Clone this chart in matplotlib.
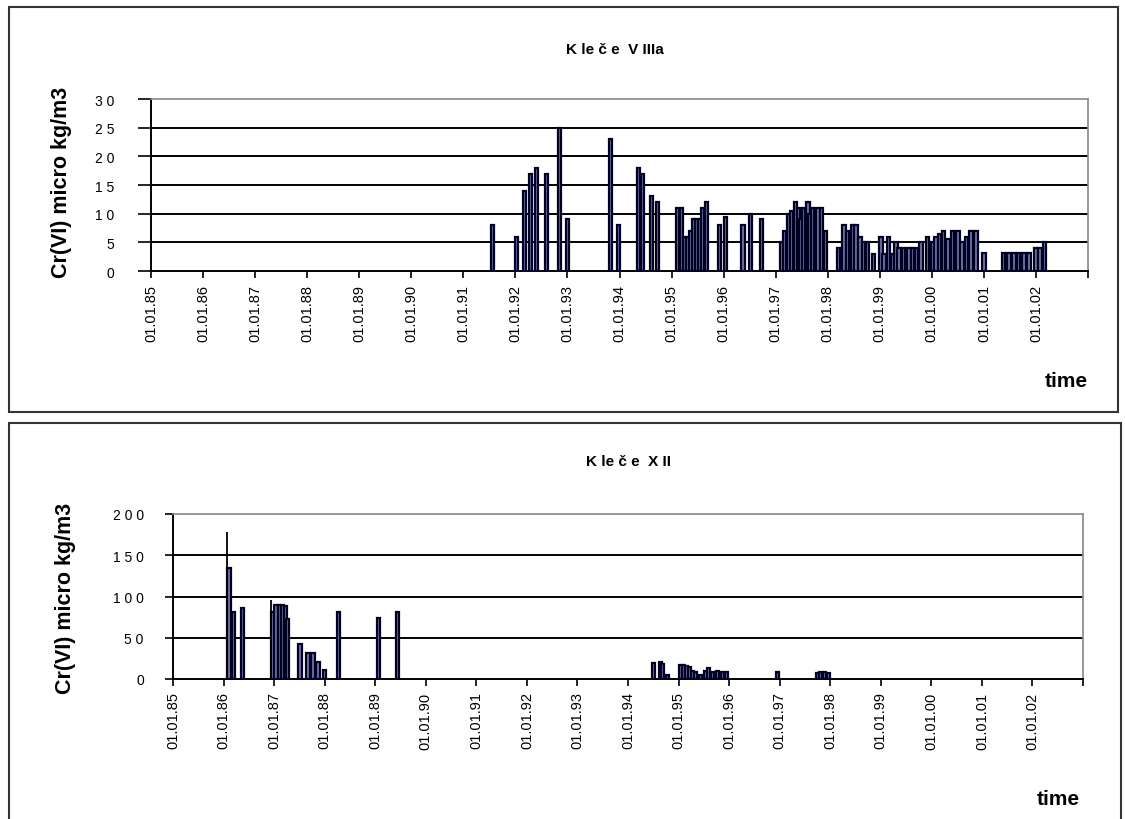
import matplotlib
matplotlib.use("Agg")
import matplotlib.pyplot as plt
import matplotlib.transforms as mtransforms
from matplotlib.patches import Rectangle

plt.rcParams['font.family'] = ['Liberation Sans', 'DejaVu Sans']

# Kleče VIIIa - sample dates (decimal years) and Cr(VI) values
top_dates = [1991.56, 1992.02, 1992.17, 1992.29, 1992.40, 1992.60, 1992.85, 1993.00,
             1993.83, 1993.98, 1994.37, 1994.44, 1994.62, 1994.73, 1995.12, 1995.19,
             1995.25, 1995.31, 1995.37, 1995.42, 1995.48, 1995.54, 1995.60, 1995.67,
             1995.92, 1996.04, 1996.37, 1996.52, 1996.73, 1997.12, 1997.17, 1997.25,
             1997.31, 1997.38, 1997.44, 1997.48, 1997.54, 1997.62, 1997.65, 1997.71,
             1997.81, 1997.88, 1997.96, 1998.21, 1998.31, 1998.38, 1998.48, 1998.54,
             1998.62, 1998.69, 1998.77, 1998.88, 1999.02, 1999.08, 1999.17, 1999.25,
             1999.31, 1999.37, 1999.46, 1999.56, 1999.63, 1999.71, 1999.79, 1999.92,
             2000.02, 2000.08, 2000.15, 2000.23, 2000.31, 2000.40, 2000.50, 2000.58,
             2000.67, 2000.75, 2000.85, 2001.00, 2001.38, 2001.48, 2001.58, 2001.67,
             2001.77, 2001.87, 2002.00, 2002.08, 2002.17]
top_vals = [8, 6, 14, 17, 18, 17, 25, 9,
            23, 8, 18, 17, 13, 12, 11, 11,
            6, 6, 7, 9, 9, 9, 11, 12,
            8, 9.5, 8, 10, 9, 5, 7, 10,
            10.5, 12, 11, 9, 11, 12, 10, 11,
            11, 11, 7, 4, 8, 7, 8, 8,
            6, 5, 5, 3, 6, 3, 6, 3,
            5, 4, 4, 4, 4, 4, 5, 6,
            5, 6, 6.5, 7, 5.5, 7, 7, 5,
            6, 7, 7, 3.2, 3.2, 3.2, 3.2, 3.2,
            3.2, 3.2, 4, 4, 5]

# Kleče XII
bot_dates = [1986.11, 1986.19, 1986.37, 1986.98, 1987.04, 1987.10, 1987.16, 1987.22,
             1987.26, 1987.51, 1987.67, 1987.77, 1987.87, 1987.99, 1988.27, 1989.06,
             1989.44, 1994.50, 1994.64, 1994.68, 1994.78, 1995.04, 1995.10, 1995.16,
             1995.22, 1995.28, 1995.34, 1995.44, 1995.53, 1995.59, 1995.67, 1995.77,
             1995.87, 1995.95, 1996.96, 1997.75, 1997.81, 1997.89, 1997.97]
bot_vals = [135, 81, 86, 81, 90, 90, 90, 88,
            73, 43, 31, 31, 21, 11, 81, 74,
            81, 19, 21, 18, 5, 17, 17, 16,
            15, 10, 8, 5, 10, 13, 9, 10,
            9, 9, 8, 7, 8, 8, 7]
# single very narrow bars
bot_spike_dates = [1986.07, 1986.94]
bot_spike_vals = [178, 96]

years = list(range(1985, 2003))
year_labels = ["01.01.%02d" % (y % 100) for y in years]

W, H = 1125, 820
fig = plt.figure(figsize=(W / 100, H / 100), dpi=100)


def fx(px):
    return px / W


def fy(py):
    return 1 - py / H


# outer frames
fig.patches.append(Rectangle((fx(9), fy(413)), fx(1118 - 9), (413 - 8) / H,
                             transform=fig.transFigure, fill=False, lw=1.5, ec='#333333'))
fig.patches.append(Rectangle((fx(9), fy(840)), fx(1121 - 9), (840 - 424) / H,
                             transform=fig.transFigure, fill=False, lw=1.5, ec='#333333'))


def setup(ax, ymax, ystep, title, title_xy, ylab_xy, time_xy, ytick_len, ypad):
    ax.set_xlim(1985, 2003)
    ax.set_ylim(0, ymax)
    ticks = list(range(0, ymax + 1, ystep))
    ax.set_yticks(ticks)
    ax.set_yticklabels([" ".join(str(t)) for t in ticks], fontsize=10)
    for t in ticks[1:-1]:
        ax.axhline(t, color='black', lw=1.4, zorder=1)
    ax.set_xticks(years + [2003])
    ax.set_xticklabels(year_labels + [""], rotation=90, fontsize=10.5)
    off = mtransforms.ScaledTranslation(-6 / 100, 0, fig.dpi_scale_trans)
    for lab in ax.get_xticklabels():
        lab.set_transform(lab.get_transform() + off)
    ax.tick_params(axis='y', direction='out', length=ytick_len, width=1.2, pad=ypad)
    ax.tick_params(axis='x', direction='out', length=5, width=1.2, pad=4)
    for s in ['top', 'right']:
        ax.spines[s].set_color('#888888')
        ax.spines[s].set_linewidth(1.2)
    for s in ['left', 'bottom']:
        ax.spines[s].set_linewidth(1.4)
    fig.text(fx(title_xy[0]), fy(title_xy[1]), title, ha='center', va='center',
             fontsize=11, fontweight='bold')
    fig.text(fx(ylab_xy[0]), fy(ylab_xy[1]), "Cr(VI) micro kg/m3", rotation=90,
             ha='center', va='center', fontsize=15.5, fontweight='bold')
    fig.text(fx(time_xy[0]), fy(time_xy[1]), "time", ha='right', va='center',
             fontsize=15, fontweight='bold')


bar_style = dict(width=0.065, color='#7474a8', edgecolor='#000022', linewidth=1.6, zorder=3)

ax1 = fig.add_axes([fx(151), fy(272), fx(1088 - 151), (272 - 100) / H])
ax1.bar(top_dates, top_vals, **bar_style)
setup(ax1, 30, 5, "K le č e  V IIIa", (615, 50), (62, 182), (1088, 382), 9.5, 17)

ax2 = fig.add_axes([fx(173), fy(680), fx(1083 - 173), (680 - 515) / H])
ax2.bar(bot_dates, bot_vals, **bar_style)
ax2.vlines(bot_spike_dates, 0, bot_spike_vals, color='black', lw=1.3, zorder=4)
setup(ax2, 200, 50, "K le č e  X II", (628, 462), (66, 598), (1080, 800), 6, 15)

fig.savefig("out.png", dpi=100)
